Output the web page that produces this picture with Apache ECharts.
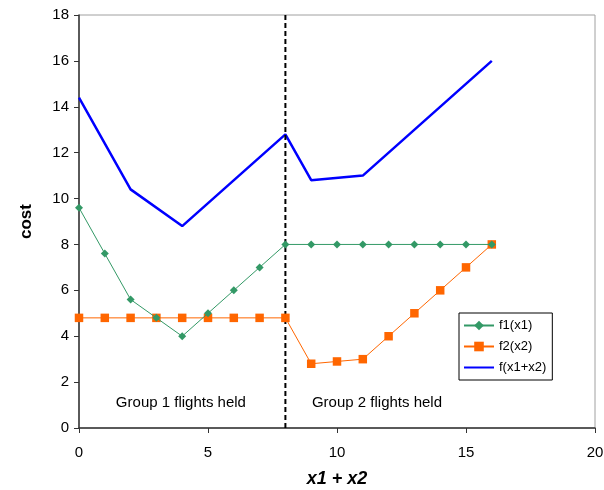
<!DOCTYPE html>
<html>
<head>
<meta charset="utf-8">
<script src="https://cdn.jsdelivr.net/npm/echarts@6/dist/echarts.min.js"></script>
<style>
  html, body { margin: 0; padding: 0; background: #fff; }
  #chart { width: 604px; height: 490px; }
</style>
</head>
<body>
<div id="chart"></div>
<script>
// x1 + x2 values
const xs = [0, 1, 2, 3, 4, 5, 6, 7, 8, 9, 10, 11, 12, 13, 14, 15, 16];
// cost of group 1 flights
const f1 = [9.6, 7.6, 5.6, 4.8, 4.0, 5.0, 6.0, 7.0, 8.0, 8.0, 8.0, 8.0, 8.0, 8.0, 8.0, 8.0, 8.0];
// cost of group 2 flights
const f2 = [4.8, 4.8, 4.8, 4.8, 4.8, 4.8, 4.8, 4.8, 4.8, 2.8, 2.9, 3.0, 4.0, 5.0, 6.0, 7.0, 8.0];
// total cost breakpoints
const totalX = [0, 2, 4, 8, 9, 11, 16];
const totalY = [14.4, 10.4, 8.8, 12.8, 10.8, 11.0, 16.0];
// split between the two groups
const splitX = 8;
const yRange = [0, 18];
// region notes
const noteText = ['Group 1 flights held', 'Group 2 flights held'];
const noteX = [3.95, 11.55];
const noteY = [1.1, 1.1];

const pair = (a, b) => a.map((v, i) => [v, b[i]]);
const font = 'Arial, "Liberation Sans", sans-serif';

const chart = echarts.init(document.getElementById('chart'), null, { renderer: 'canvas' });
chart.setOption({
  animation: false,
  backgroundColor: '#fff',
  textStyle: { fontFamily: font },
  grid: {
    left: 79, right: 9, top: 15, bottom: 62,
    containLabel: false, outerBoundsMode: 'none',
    show: true, borderColor: '#a0a0a0', borderWidth: 1
  },
  legend: {
    data: [
      'f1(x1)',
      'f2(x2)',
      // plain line key for the total, no marker
      { name: 'f(x1+x2)', itemStyle: { opacity: 0 } }
    ],
    orient: 'vertical',
    left: 459, top: 313,
    padding: [6, 6, 6, 4],
    itemGap: 8,
    itemWidth: 30, itemHeight: 12,
    borderColor: '#000', borderWidth: 1,
    backgroundColor: '#fff',
    textStyle: { fontSize: 13, color: '#000', fontFamily: font }
  },
  xAxis: {
    type: 'value', min: 0, max: 20, interval: 5,
    name: 'x1 + x2', nameLocation: 'middle', nameGap: 42,
    nameTextStyle: { fontSize: 18, fontWeight: 'bold', fontStyle: 'italic', color: '#000', fontFamily: font },
    axisLine: { show: true, lineStyle: { color: '#333', width: 1.5 } },
    axisTick: { show: true, length: 5, lineStyle: { color: '#333' } },
    axisLabel: { fontSize: 15, color: '#000', margin: 17 },
    splitLine: { show: false }
  },
  yAxis: {
    type: 'value', min: yRange[0], max: yRange[1], interval: 2,
    name: 'cost', nameLocation: 'middle', nameGap: 44, nameRotate: 90,
    nameTextStyle: { fontSize: 17, fontWeight: 'bold', color: '#000', fontFamily: font },
    axisLine: { show: true, lineStyle: { color: '#333', width: 1.5 } },
    axisTick: { show: true, length: 5, lineStyle: { color: '#333' } },
    axisLabel: { fontSize: 15, color: '#000', margin: 10 },
    splitLine: { show: false }
  },
  series: [
    {
      name: 'f(x1+x2)', type: 'line', data: pair(totalX, totalY),
      symbol: 'none', z: 3,
      lineStyle: { color: '#0000ff', width: 2.5 },
      itemStyle: { color: '#0000ff' }
    },
    {
      name: 'split', type: 'line', data: [[splitX, yRange[0]], [splitX, yRange[1]]],
      symbol: 'none', z: 4, silent: true,
      lineStyle: { color: '#000', width: 2, type: [5, 3] }
    },
    {
      name: 'f1(x1)', type: 'line', data: pair(xs, f1),
      symbol: 'diamond', symbolSize: 8, z: 5,
      lineStyle: { color: '#339966', width: 1 },
      itemStyle: { color: '#339966' }
    },
    {
      name: 'f2(x2)', type: 'line', data: pair(xs, f2),
      symbol: 'rect', symbolSize: 8.5, z: 4,
      lineStyle: { color: '#ff6600', width: 1 },
      itemStyle: { color: '#ff6600' }
    },
    {
      name: 'notes', type: 'custom', silent: true,
      data: noteText.map((t, i) => [noteX[i], noteY[i], t]),
      renderItem: (params, api) => {
        const p = api.coord([api.value(0), api.value(1)]);
        return {
          type: 'text',
          style: {
            text: noteText[params.dataIndex],
            x: p[0], y: p[1],
            align: 'center', verticalAlign: 'middle',
            fontSize: 15, fill: '#000', fontFamily: font
          }
        };
      }
    }
  ]
});
</script>
</body>
</html>
